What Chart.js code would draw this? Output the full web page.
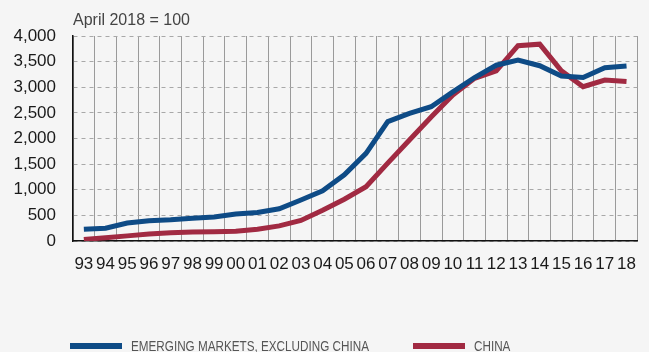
<!DOCTYPE html>
<html>
<head>
<meta charset="utf-8">
<script src="https://cdn.jsdelivr.net/npm/chart.js@4.4.1/dist/chart.umd.min.js"></script>
<style>
  html, body { margin: 0; padding: 0; background: #f5f5f5; }
  #wrap { position: relative; width: 649px; height: 352px; overflow: hidden; background: #f5f5f5; }
  #chart { position: absolute; left: 0; top: 0; }
  #title { position: absolute; left: 73px; top: 11px; font: 16px "Liberation Sans", Arial, sans-serif; color: #444; white-space: nowrap; }
  .leg { position: absolute; top: 337px; display: flex; align-items: center; font: 15px "Liberation Sans", Arial, sans-serif; color: #555; white-space: nowrap; }
  .leg span.sw { display: inline-block; width: 52px; height: 6px; margin-right: 9px; flex: none; }
  .leg span.tx { display: inline-block; transform: scaleX(0.78); transform-origin: left center; }
</style>
</head>
<body>
<div id="wrap">
  <canvas id="chart" width="649" height="352"></canvas>
  <div id="title">April 2018 = 100</div>
  <div class="leg" id="leg1" style="left:70px"><span class="sw"></span><span class="tx"></span></div>
  <div class="leg" id="leg2" style="left:413px"><span class="sw"></span><span class="tx"></span></div>
</div>
<script>
const categories = ["93","94","95","96","97","98","99","00","01","02","03","04","05","06","07","08","09","10","11","12","13","14","15","16","17","18"];
const emExChina = [230, 250, 350, 395, 415, 445, 470, 525, 555, 630, 800, 980, 1290, 1710, 2330, 2490, 2620, 2910, 3190, 3430, 3530, 3420, 3220, 3190, 3380, 3415];
const china = [30, 65, 100, 135, 160, 175, 180, 190, 230, 295, 400, 600, 815, 1060, 1520, 1970, 2420, 2850, 3175, 3320, 3810, 3840, 3320, 3010, 3140, 3110];
const yTicks = [0, 500, 1000, 1500, 2000, 2500, 3000, 3500, 4000];
const seriesNames = ["EMERGING MARKETS, EXCLUDING CHINA", "CHINA"];
const seriesColors = ["#0e4b86", "#a12a42"];

const fontFam = '"Liberation Sans", Arial, sans-serif';

const chart = new Chart(document.getElementById('chart'), {
  type: 'line',
  data: {
    labels: categories,
    datasets: [
      { label: seriesNames[0], data: emExChina, borderColor: seriesColors[0], backgroundColor: seriesColors[0], borderWidth: 5, pointRadius: 0, tension: 0, fill: false },
      { label: seriesNames[1], data: china, borderColor: seriesColors[1], backgroundColor: seriesColors[1], borderWidth: 5, pointRadius: 0, tension: 0, fill: false }
    ]
  },
  options: {
    responsive: false,
    animation: false,
    devicePixelRatio: 1,
    layout: { padding: { left: 0, right: 1, top: 36, bottom: 71 } },
    plugins: { legend: { display: false }, tooltip: { enabled: false }, title: { display: false } },
    scales: {
      x: {
        type: 'category',
        offset: true,
        grid: { display: true, offset: true, color: '#9a9a9a', lineWidth: 1, drawTicks: false },
        border: { display: true, color: '#111', width: 1.5 },
        ticks: { autoSkip: false, maxRotation: 0, minRotation: 0, color: '#1a1a1a', font: { family: fontFam, size: 17 }, padding: 13 },
        afterFit: (a) => { a.height = 40; }
      },
      y: {
        min: 0, max: 4000,
        afterBuildTicks: (a) => { a.ticks = yTicks.map(v => ({ value: v })); },
        grid: { color: '#a8a8a8', lineWidth: 1, drawTicks: false },
        border: { display: true, color: '#111', width: 1.5, dash: [4, 4] },
        ticks: {
          color: '#1a1a1a', font: { family: fontFam, size: 17 }, padding: 17,
          callback: (v) => Number(v).toLocaleString('en-US')
        },
        afterFit: (a) => { a.width = 73; }
      }
    }
  }
});

// legend from dataset styling
[document.getElementById('leg1'), document.getElementById('leg2')].forEach((el, i) => {
  el.querySelector('.sw').style.background = chart.data.datasets[i].borderColor;
  el.querySelector('.tx').textContent = chart.data.datasets[i].label;
});
</script>
</body>
</html>
